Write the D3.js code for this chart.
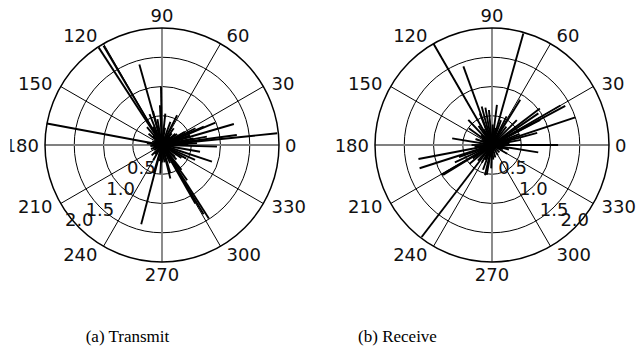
<!DOCTYPE html>
<html>
<head>
<meta charset="utf-8">
<script src="https://cdn.jsdelivr.net/npm/d3@7"></script>
<style>
  html, body { margin: 0; padding: 0; background: #fff; }
  svg { display: block; }
</style>
</head>
<body>
<svg id="chart" width="640" height="347"></svg>
<script>
// Radial rings and angular spokes shared by both panels.
const ringTicks = [0.5, 1.0, 1.5, 2.0];
const spokeAngles = [0, 30, 60, 90, 120, 150, 180, 210, 240, 270, 300, 330];

// (a) Transmit: one segment per entry, angle in degrees, magnitude in ring units.
const txAngle = [123, 120.5, 105.7, 169.4, 91, 93, 112, 105, 84, 70, 55, 63,
  5.8, 7.6, 16.3, 22.7, 23.7, 26.6, 10.5, 12, 3, 358.3, 350, 341.6, 335.6, 331,
  302.5, 301, 299.7, 305.5, 308, 286.4, 284, 255.3, 266.6, 253.6, 174, 130, 140,
  40, 30, 200, 225, 240, 315, 45, 270, 150, 190,
  80, 100, 116, 135, 160, 185, 212, 232, 262, 278, 294, 318, 326, 19, 36, 50, 2];
const txMag = [1.99, 1.97, 1.43, 2.0, 1.0, 0.68, 0.57, 0.6, 0.54, 0.42, 0.35, 0.57,
  1.98, 1.29, 1.28, 0.99, 0.78, 0.64, 0.78, 0.55, 0.6, 0.94, 0.66, 0.9, 0.62, 0.47,
  1.49, 1.38, 1.15, 0.74, 0.54, 0.5, 0.59, 1.4, 0.49, 0.5, 0.26, 0.4, 0.3,
  0.3, 0.45, 0.2, 0.25, 0.3, 0.35, 0.2, 0.3, 0.15, 0.15,
  0.3, 0.45, 0.35, 0.22, 0.18, 0.2, 0.16, 0.2, 0.28, 0.3, 0.34, 0.3, 0.4, 0.5, 0.32, 0.26, 0.45];

// (b) Receive
const rxAngle = [120, 74.3, 110, 28.1, 30, 18.4, 0, 351, 190.8, 197.8, 210.5, 211.5,
  232.6, 170.5, 144, 133.4, 256.9, 58, 100, 95, 105, 111, 83, 37.4, 34.3, 27.5, 45,
  63, 220, 240, 250, 260, 275, 300, 330, 10, 15, 160, 180, 200, 205, 125, 70, 345,
  88, 117, 138, 152, 186, 215, 228, 245, 268, 285, 315, 338, 5, 22, 52, 78];
const rxMag = [2.0, 1.98, 1.43, 1.42, 1.35, 1.5, 1.13, 0.8, 1.28, 1.3, 1.0, 0.98,
  1.98, 0.69, 0.49, 0.59, 0.53, 0.91, 0.65, 0.6, 0.68, 0.58, 0.69, 1.03, 0.96, 0.93, 0.6,
  0.55, 0.5, 0.35, 0.45, 0.52, 0.25, 0.2, 0.3, 0.5, 0.8, 0.3, 0.35, 0.6, 0.7, 0.4, 0.45, 0.3,
  0.35, 0.3, 0.25, 0.2, 0.3, 0.4, 0.36, 0.28, 0.4, 0.22, 0.18, 0.2, 0.3, 0.5, 0.4, 0.3];

const captions = ["(a) Transmit", "(b) Receive"];

const svg = d3.select("#chart");
const R = 117;
const rMax = 2.0;
const r = d3.scaleLinear().domain([0, rMax]).range([0, R]);
const rad = (deg) => deg * Math.PI / 180;
const fontSize = 18;
const capH = 0.73 * fontSize;

// the left panel is cropped just inside its "180" label, as in the source figure
svg.append("defs").append("clipPath").attr("id", "clipA")
  .append("rect").attr("x", 10.3).attr("y", 0).attr("width", 320).attr("height", 300);

function drawPolar(cx, cy, angles, mags, rLabelAngle, clipId) {
  const g = svg.append("g");
  if (clipId) g.attr("clip-path", `url(#${clipId})`);
  const px = (deg, v) => cx + r(v) * Math.cos(rad(deg));
  const py = (deg, v) => cy - r(v) * Math.sin(rad(deg));

  // inner rings
  g.selectAll("circle.ring").data(ringTicks.slice(0, -1)).join("circle")
    .attr("class", "ring").attr("cx", cx).attr("cy", cy).attr("r", (d) => r(d))
    .attr("fill", "none").attr("stroke", "#000").attr("stroke-width", 1);

  // 30-degree spokes (thin black), main axes (grey)
  const spokes = spokeAngles.filter((a) => a < 180);
  g.selectAll("line.spoke").data(spokes.filter((a) => a % 90 !== 0)).join("line")
    .attr("class", "spoke")
    .attr("x1", (a) => px(a, rMax)).attr("y1", (a) => py(a, rMax))
    .attr("x2", (a) => px(a + 180, rMax)).attr("y2", (a) => py(a + 180, rMax))
    .attr("stroke", "#000").attr("stroke-width", 1);
  g.selectAll("line.axis").data(spokes.filter((a) => a % 90 === 0)).join("line")
    .attr("class", "axis")
    .attr("x1", (a) => px(a, rMax)).attr("y1", (a) => py(a, rMax))
    .attr("x2", (a) => px(a + 180, rMax)).attr("y2", (a) => py(a + 180, rMax))
    .attr("stroke", "#808080").attr("stroke-width", 1.8);

  // outer ring
  g.append("circle").attr("cx", cx).attr("cy", cy).attr("r", r(rMax))
    .attr("fill", "none").attr("stroke", "#000").attr("stroke-width", 1.5);

  // radial tick labels
  g.selectAll("text.rlab").data(ringTicks).join("text").attr("class", "rlab")
    .attr("x", (d) => px(rLabelAngle, d))
    .attr("y", (d) => py(rLabelAngle, d) + capH / 2 + (d === rMax ? -8 : 2))
    .attr("text-anchor", "middle")
    .attr("font-family", "DejaVu Sans, sans-serif").attr("font-size", fontSize).attr("fill", "#111")
    .text((d) => d.toFixed(1));

  // data segments from the origin
  const segs = angles.map((a, i) => ({ a, m: mags[i] }));
  g.selectAll("line.seg").data(segs).join("line").attr("class", "seg")
    .attr("x1", cx).attr("y1", cy)
    .attr("x2", (d) => px(d.a, d.m)).attr("y2", (d) => py(d.a, d.m))
    .attr("stroke", "#000").attr("stroke-width", 1.9);

  // angle labels: near edge against a point just outside the ring,
  // vertical alignment slides from centred (<=30deg) to flush (90deg)
  const pad = 6;
  g.selectAll("text.alab").data(spokeAngles).join("text").attr("class", "alab")
    .attr("font-family", "DejaVu Sans, sans-serif").attr("font-size", fontSize).attr("fill", "#111")
    .attr("text-anchor", (d) => {
      const c = Math.cos(rad(d));
      return Math.abs(c) < 0.1 ? "middle" : (c > 0 ? "start" : "end");
    })
    .attr("x", (d) => {
      const c = Math.cos(rad(d)), s = Math.sin(rad(d));
      const nudge = Math.abs(c) < 0.1 || Math.abs(s) < 0.1 ? 0 : 3 * Math.sign(c);
      return cx + (R + pad) * c + nudge;
    })
    .attr("y", (d) => {
      const s = Math.sin(rad(d));
      const ang = Math.asin(Math.abs(s)) * 180 / Math.PI;
      const k = Math.max(0, Math.min(1, (ang - 30) / 60));
      const centre = cy - (R + pad) * s - Math.sign(s) * k * capH / 2;
      return centre + capH / 2;
    })
    .text((d) => d);
}

drawPolar(162, 145, txAngle, txMag, 225, "clipA");
drawPolar(492, 145, rxAngle, rxMag, 315, null);

svg.selectAll("text.cap").data(captions).join("text").attr("class", "cap")
  .attr("x", (d, i) => [127.5, 397.5][i]).attr("y", 342)
  .attr("text-anchor", "middle")
  .attr("font-family", "Liberation Serif, Times New Roman, serif").attr("font-size", 17)
  .attr("fill", "#000")
  .text((d) => d);
</script>
</body>
</html>
